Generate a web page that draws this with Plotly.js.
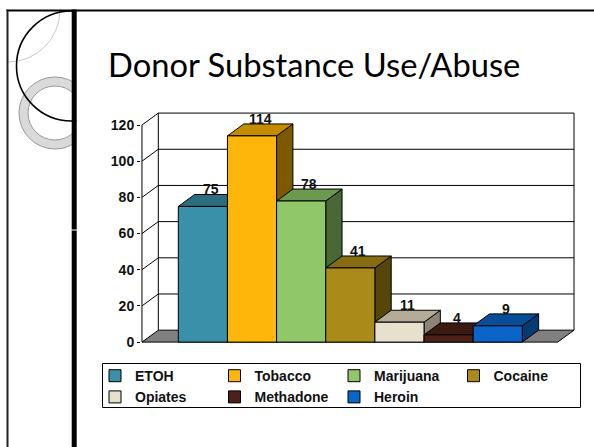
<!DOCTYPE html>
<html>
<head>
<meta charset="utf-8">
<script src="https://cdn.plot.ly/plotly-3.0.1.min.js"></script>
<style>
  html, body { margin: 0; padding: 0; background: #fff; }
  #chart { width: 594px; height: 447px; }
</style>
</head>
<body>
<div id="chart"></div>
<script>
// ---- data ----
const categories = ['ETOH', 'Tobacco', 'Marijuana', 'Cocaine', 'Opiates', 'Methadone', 'Heroin'];
const values = [75, 114, 78, 41, 11, 4, 9];
const yTickValues = [0, 20, 40, 60, 80, 100, 120];
const chartTitle = 'Donor Substance Use/Abuse';

// ---- styles ----
const frontColors = ['#3A90A8', '#FFB60A', '#8FC769', '#AA8A18', '#E7E0CC', '#4D2117', '#0B64C7'];
const topColors   = ['#2C6E80', '#C48D00', '#6B9A4E', '#866C10', '#B4AC99', '#3B1A12', '#074D98'];
const sideColors  = ['#1F4F5C', '#7D5A00', '#486835', '#56460A', '#8A8578', '#2B130D', '#053A73'];

// 3-D look (in axis units)
const X0 = -1.239, X1 = 7.552, DX = 0.332, DY = 6.6, YMAX = 120;
const XF = X1 - DX; // right end of front floor edge

// page geometry
const M = { l: 141, r: 19, t: 112, b: 104 };
const W = 594, H = 447;
const PW = W - M.l - M.r, PH = H - M.t - M.b;
const px = v => (v - M.l) / PW;
const py = v => (H - M.b - v) / PH;

const FONT = 'Liberation Sans, Arial, sans-serif';

const traces = [];
// floor
traces.push({
  x: [X0, XF, XF + DX, X0 + DX, X0], y: [0, 0, DY, DY, 0],
  mode: 'lines', fill: 'toself', fillcolor: '#808080',
  line: { color: '#000', width: 1 }, showlegend: false, hoverinfo: 'skip'
});
// gridlines: side wall diagonal + back wall horizontal
yTickValues.forEach(v => {
  if (v === 0) return;
  traces.push({
    x: [X0, X0 + DX, X1], y: [v, v + DY, v + DY],
    mode: 'lines', line: { color: '#000', width: 1 }, showlegend: false, hoverinfo: 'skip'
  });
});
// back wall verticals and front axis line
traces.push({
  x: [X0 + DX, X0 + DX], y: [DY, YMAX + DY],
  mode: 'lines', line: { color: '#000', width: 1 }, showlegend: false, hoverinfo: 'skip'
});
traces.push({
  x: [X1, X1], y: [DY, YMAX + DY],
  mode: 'lines', line: { color: '#000', width: 1 }, showlegend: false, hoverinfo: 'skip'
});
traces.push({
  x: [X0, X0], y: [0, YMAX],
  mode: 'lines', line: { color: '#000', width: 1 }, showlegend: false, hoverinfo: 'skip'
});
// bar top and side faces
values.forEach((v, i) => {
  const L = i - 0.5, R = i + 0.5;
  traces.push({
    x: [R, R, R + DX, R + DX, R], y: [0, v, v + DY, DY, 0],
    mode: 'lines', fill: 'toself', fillcolor: sideColors[i],
    line: { color: '#000', width: 1 }, showlegend: false, hoverinfo: 'skip'
  });
  traces.push({
    x: [L, R, R + DX, L + DX, L], y: [v, v, v + DY, v + DY, v],
    mode: 'lines', fill: 'toself', fillcolor: topColors[i],
    line: { color: '#000', width: 1 }, showlegend: false, hoverinfo: 'skip'
  });
});
// bar front faces (overlay subplot so they sit above the faces of neighbours)
categories.forEach((c, i) => {
  traces.push({
    type: 'bar', name: c, x: [i], y: [values[i]], width: 1,
    xaxis: 'x2', yaxis: 'y2',
    marker: { color: frontColors[i], line: { color: '#000', width: 1 } },
    hoverinfo: 'name+y'
  });
});

const annotations = values.map((v, i) => ({
  x: i + DX / 2, y: v + DY, xref: 'x', yref: 'y',
  text: String(v), showarrow: false, yanchor: 'bottom', yshift: -5,
  font: { family: FONT, size: 14, weight: 'bold', color: '#111' }
}));

function circle(cx, cy, r, line, fill) {
  return {
    type: 'circle', xref: 'paper', yref: 'paper', layer: 'below',
    x0: px(cx - r), x1: px(cx + r), y0: py(cy + r), y1: py(cy - r),
    line: line, fillcolor: fill || 'rgba(0,0,0,0)'
  };
}
function rect(x0, y0, x1, y1, fill, line, layer) {
  return {
    type: 'rect', xref: 'paper', yref: 'paper', layer: layer || 'below',
    x0: px(x0), x1: px(x1), y0: py(y1), y1: py(y0),
    line: line || { width: 0 }, fillcolor: fill
  };
}
function seg(x0, y0, x1, y1, color, width) {
  return {
    type: 'line', xref: 'paper', yref: 'paper', layer: 'below',
    x0: px(x0), x1: px(x1), y0: py(y0), y1: py(y1),
    line: { color: color, width: width }
  };
}

const shapes = [
  circle(8, 10, 52, { color: '#c8c8c8', width: 1 }),
  circle(55, 113, 31.5, { color: '#dadada', width: 9 }),
  circle(55, 113, 36, { color: '#9a9a9a', width: 1 }),
  circle(55, 113, 27, { color: '#9a9a9a', width: 1 }),
  circle(71.5, 66, 55, { color: '#000', width: 1.6 }),
  rect(76.5, 0, 594, 447, '#fff'),
  rect(0, 0, 6.5, 447, '#fff'),
  rect(0, 0, 594, 9.5, '#fff'),
  seg(6.5, 10.5, 594, 10.5, '#000', 2),
  seg(7.5, 9.5, 7.5, 447, '#222', 2),
  seg(74.2, 9.5, 74.2, 229.5, '#000', 5),
  seg(74.2, 230.5, 74.2, 447, '#000', 5),
  // legend frame
  rect(102.5, 363.5, 580.5, 407.5, 'rgba(0,0,0,0)', { color: '#000', width: 1 }, 'above')
];

const layout = {
  width: W, height: H,
  margin: M,
  paper_bgcolor: '#fff', plot_bgcolor: 'rgba(0,0,0,0)',
  title: {
    text: chartTitle, xref: 'container', yref: 'container',
    x: 108 / W, xanchor: 'left', y: 1 - 66 / H, yanchor: 'middle',
    font: { family: 'Lato, sans-serif', size: 32.7, color: '#000' }
  },
  xaxis: { range: [X0 - 0.02, X1 + 0.02], visible: false, fixedrange: true },
  yaxis: {
    range: [-0.5, 127.2], tickvals: yTickValues, ticktext: yTickValues.map(String),
    ticks: 'outside', ticklen: 3, tickcolor: '#000', tickwidth: 1,
    showgrid: false, zeroline: false, showline: false, fixedrange: true,
    tickfont: { family: FONT, size: 14, weight: 'bold', color: '#111' }
  },
  xaxis2: { overlaying: 'x', range: [X0 - 0.02, X1 + 0.02], visible: false, fixedrange: true },
  yaxis2: { overlaying: 'y', range: [-0.5, 127.2], visible: false, fixedrange: true },
  barmode: 'overlay',
  showlegend: true,
  legend: {
    orientation: 'h', x: px(101), y: py(360.1), xanchor: 'left', yanchor: 'top',
    borderwidth: 0, bgcolor: 'rgba(0,0,0,0)',
    entrywidth: 80.5, entrywidthmode: 'pixels', indentation: -6, traceorder: 'normal',
    font: { family: FONT, size: 14, weight: 'bold', color: '#111' }
  },
  annotations: annotations,
  shapes: shapes
};

Plotly.newPlot('chart', traces, layout, { displayModeBar: false, staticPlot: true });
</script>
</body>
</html>
